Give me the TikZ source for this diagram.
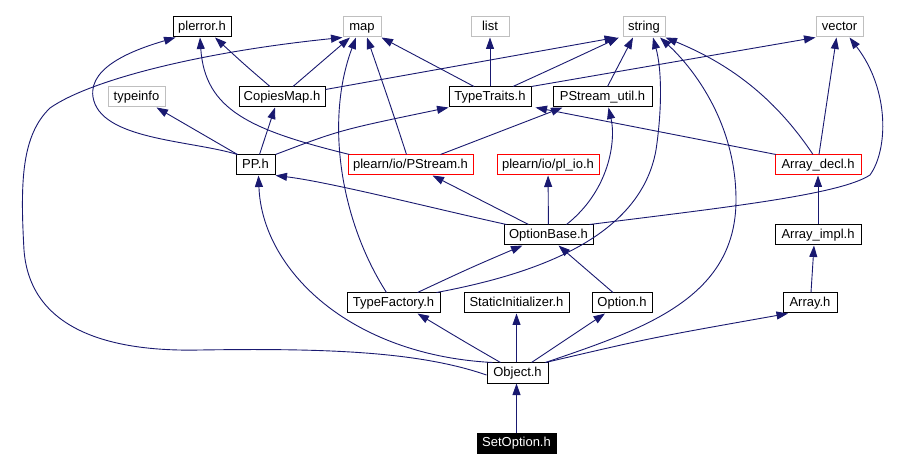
\documentclass[tikz,border=0pt]{standalone}
\usepackage{fontspec}
\setmainfont{Liberation Sans}
\usetikzlibrary{arrows.meta,calc}
\definecolor{edgeblue}{HTML}{191970}
\definecolor{graybox}{HTML}{BFBFBF}
\definecolor{redbox}{HTML}{FF0000}
\begin{document}
\begin{tikzpicture}[x=1pt,y=-1pt,
  font=\fontsize{13}{15}\selectfont,
  bx/.style={draw=black, line width=1pt, minimum height=20pt, inner sep=0pt,
             text height=9.5pt, text depth=2.7pt},
  gbx/.style={bx, draw=graybox},
  rbx/.style={bx, draw=redbox},
  dep/.style={draw=edgeblue, line width=0.9pt, -{Triangle[length=11.5pt,width=8pt]}}]
\useasboundingbox[fill=white] (0,0) rectangle (916,470);

% row 1
\node[bx,  minimum width=58pt] (plerror) at (202,27) {plerror.h};
\node[gbx, minimum width=38pt] (map) at (362,27) {map};
\node[gbx, minimum width=38pt] (list) at (490,27) {list};
\node[gbx, minimum width=42pt] (string) at (644,27) {string};
\node[gbx, minimum width=47pt] (vector) at (839.5,27) {vector};
% row 2
\node[gbx, minimum width=57pt] (typeinfo) at (136.5,97) {typeinfo};
\node[bx,  minimum width=86pt] (cm) at (282,97) {CopiesMap.h};
\node[bx,  minimum width=82pt] (tt) at (490,97) {TypeTraits.h};
\node[bx,  minimum width=99pt] (psu) at (602.5,97) {PStream\_util.h};
% row 3
\node[bx,  minimum width=39pt] (pp) at (255.5,165) {PP.h};
\node[rbx, minimum width=125pt] (pstream) at (410.5,165) {plearn/io/PStream.h};
\node[rbx, minimum width=102pt] (plio) at (548,165) {plearn/io/pl\_io.h};
\node[rbx, minimum width=86pt] (adecl) at (818,165) {Array\_decl.h};
% row 4
\node[bx,  minimum width=89pt] (ob) at (548.5,235) {OptionBase.h};
\node[bx,  minimum width=86pt] (aimpl) at (818,235) {Array\_impl.h};
% row 5
\node[bx,  minimum width=93pt] (tf) at (393.5,303) {TypeFactory.h};
\node[bx,  minimum width=105pt] (static) at (516.5,303) {StaticInitializer.h};
\node[bx,  minimum width=60pt] (option) at (622,303) {Option.h};
\node[bx,  minimum width=54pt] (arr) at (810,303) {Array.h};
% row 6
\node[bx,  minimum width=61pt] (obj) at (517.5,373) {Object.h};
% row 7
\node[bx,  fill=black, text=white, minimum width=79pt] (setopt) at (516.5,443) {SetOption.h};

% edges
\draw[dep] (setopt.north) -- ([xshift=-1pt]obj.south);
\draw[dep] ([xshift=-17pt]obj.north) .. controls (465,342) .. ([xshift=24pt]tf.south);
\draw[dep] ([xshift=-1pt]obj.north) -- (static.south);
\draw[dep] ([xshift=14pt]obj.north) -- ([xshift=-17pt]option.south);
\draw[dep] ([xshift=28pt]obj.north) .. controls (650,338) .. ([xshift=-22pt]arr.south);
\draw[dep] ([xshift=-25pt]obj.north) .. controls (350,355) and (262,270) .. ([xshift=3pt]pp.south);
\draw[dep] ([yshift=-2pt]obj.west) .. controls (420,352) and (330,348) .. (200,350)
   .. controls (110,352) and (30,330) .. (24,250)
   .. controls (20,180) and (22,135) .. (50,108)
   .. controls (90,80) and (200,52) .. (map.south west);
\draw[dep] ([xshift=28pt]obj.north) .. controls (640,330) and (736,300) .. (736,200)
   .. controls (736,120) and (690,65) .. ([xshift=16pt]string.south);
\draw[dep] ([xshift=-5pt]adecl.north) .. controls (770,90) and (720,60) .. (string.south east);
\draw[dep] ([xshift=43pt]tf.north) .. controls (530,275) and (640,240) .. (656,150)
   .. controls (662,110) and (662,70) .. ([xshift=9pt]string.south);
\draw[dep] ([xshift=5pt]psu.north) -- ([xshift=-11pt]string.south);
\draw[dep] ([xshift=23pt]tt.north) .. controls (560,65) .. ([xshift=-25pt]string.south);
\draw[dep] ([yshift=-3pt]cm.north east) -- ([xshift=-28pt]string.south);
\draw[dep] ([xshift=-16pt]tt.north) -- (map.south east);
\draw[dep] (tt) -- (list);
\draw[dep] (tt.north east) -- (vector.south west);
\draw[dep] ([xshift=11pt]cm.north) -- ([xshift=-12pt]map.south);
\draw[dep] ([xshift=-12pt]cm.north) .. controls (245,65) .. ([xshift=13pt]plerror.south);
\draw[dep] ([xshift=2pt]pp.north west) .. controls (190,140) and (100,140) .. (93,97)
   .. controls (88,65) and (140,48) .. ([xshift=3pt]plerror.south west);
\draw[dep] ([xshift=2pt]pp.north west) -- ([xshift=20pt]typeinfo.south);
\draw[dep] ([xshift=4pt]pp.north) -- ([xshift=-7pt]cm.south);
\draw[dep] (pp.north east) .. controls (340,130) .. (tt.south west);
\draw[dep] ([xshift=2pt]pstream.north west) .. controls (250,130) and (205,110) .. ([xshift=-2pt]plerror.south);
\draw[dep] ([xshift=-4pt]pstream.north) .. controls (392,110) .. ([xshift=5pt]map.south);
\draw[dep] ([xshift=30pt]pstream.north) -- ([xshift=-40pt]psu.south);
\draw[dep] ([xshift=-42pt]ob.north) .. controls (440,210) and (330,182) .. (pp.south east);
\draw[dep] ([xshift=-20pt]ob.north) -- ([xshift=22pt]pstream.south);
\draw[dep] (ob) -- (plio);
\draw[dep] ([xshift=18pt]ob.north) .. controls (610,190) and (616,140) .. ([xshift=6pt]psu.south);
\draw[dep] ([xshift=-4pt]ob.north east) .. controls (720,208) and (840,195) .. (870,175)
   .. controls (888,150) and (890,90) .. ([xshift=10pt]vector.south);
\draw[dep] ([xshift=1pt]adecl.north) -- ([xshift=-3pt]vector.south);
\draw[dep] ([xshift=-42pt]adecl.north) -- ([xshift=4pt]tt.south east);
\draw[dep] (aimpl) -- (adecl);
\draw[dep] ([xshift=1pt]arr.north) -- ([xshift=-4pt]aimpl.south);
\draw[dep] ([xshift=24pt]tf.north) .. controls (470,268) .. ([xshift=-26pt]ob.south);
\draw[dep] ([xshift=-9pt]option.north) -- ([xshift=10pt]ob.south);
\draw[dep] ([xshift=-7pt]tf.north) .. controls (340,220) and (325,120) .. ([xshift=-6pt]map.south);
\end{tikzpicture}
\end{document}
